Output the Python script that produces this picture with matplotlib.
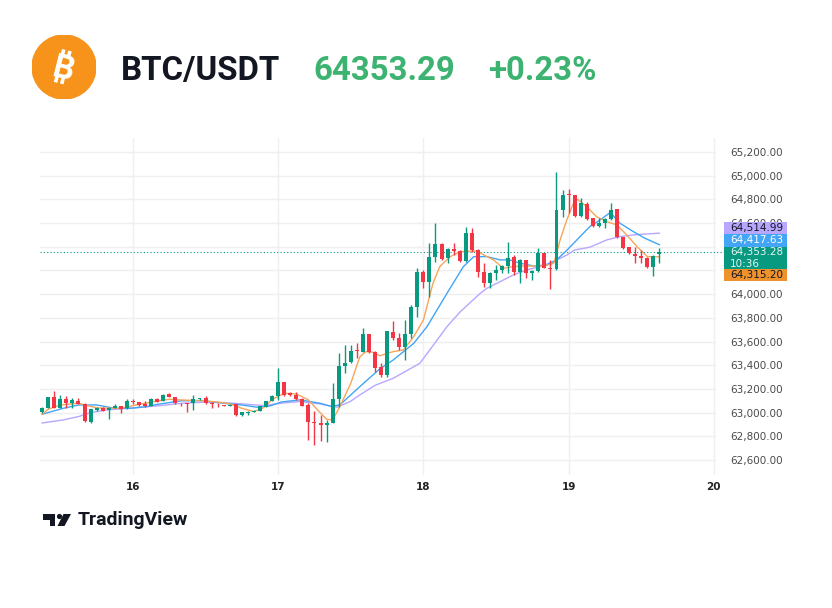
import numpy as np
import matplotlib.pyplot as plt
from matplotlib.patches import Rectangle, Circle, Polygon
from matplotlib.transforms import IdentityTransform

W, H = 832, 608

# ----------------------------
# data: hourly BTC/USDT candles, first candle = 15th 09:00
# ----------------------------
opens = [63003, 63043, 63130, 63043, 63116, 63085, 63102, 63074, 62919, 63023,
         63043, 63023, 63043, 63057, 63037, 63102, 63088, 63074, 63057, 63116,
         63102, 63158, 63130, 63082, 63080, 63079, 63116, 63121, 63085, 63073,
         63065, 63060, 63074, 62981, 62998, 63009, 63015, 63051, 63099, 63142,
         63257, 63164, 63150, 63114, 63066, 62920, 62911, 62900, 62917, 63114,
         63397, 63425, 63524, 63516, 63665, 63516, 63384, 63319, 63684, 63628,
         63550, 63665, 63895, 64190, 64106, 64317, 64421, 64303, 64378, 64367,
         64283, 64519, 64373, 64190, 64098, 64182, 64205, 64238, 64312, 64191,
         64289, 64177, 64196, 64345, 64218, 64210, 64710, 64842, 64837, 64660,
         64762, 64640, 64576, 64598, 64632, 64716, 64480, 64395, 64337, 64326,
         64309, 64227, 64340]
highs = [63050, 63135, 63183, 63150, 63144, 63121, 63121, 63078, 63035, 63048,
         63048, 63048, 63074, 63060, 63116, 63116, 63090, 63102, 63120, 63120,
         63155, 63169, 63133, 63085, 63082, 63150, 63125, 63144, 63088, 63079,
         63068, 63072, 63076, 63006, 63012, 63020, 63060, 63102, 63145, 63375,
         63262, 63178, 63178, 63120, 63080, 63010, 62981, 62939, 63248, 63501,
         63572, 63572, 63586, 63712, 63668, 63520, 63423, 63692, 63774, 63670,
         63783, 63909, 64218, 64204, 64429, 64598, 64429, 64387, 64429, 64373,
         64570, 64555, 64380, 64261, 64190, 64247, 64245, 64444, 64331, 64295,
         64289, 64200, 64387, 64345, 64289, 65034, 64879, 64885, 64840, 64809,
         64780, 64645, 64640, 64640, 64772, 64720, 64485, 64400, 64395, 64373,
         64315, 64330, 64387]
lows = [62995, 63040, 63038, 63040, 63043, 63037, 63070, 62925, 62915, 63018,
        63012, 62944, 63040, 62995, 63035, 63074, 63060, 63051, 63055, 63088,
        63098, 63132, 63075, 63057, 63009, 63023, 63110, 63075, 63037, 63046,
        63055, 63055, 62975, 62975, 62981, 63005, 63012, 63048, 63095, 63108,
        63142, 63142, 63110, 63055, 62771, 62729, 62757, 62751, 62911, 63052,
        63333, 63420, 63459, 63510, 63502, 63347, 63305, 63305, 63614, 63530,
        63446, 63628, 63811, 64050, 63979, 64275, 64289, 64260, 64331, 64275,
        64275, 64359, 64148, 64064, 64050, 64120, 64176, 64176, 64163, 64092,
        64134, 64120, 64190, 64218, 64042, 64205, 64654, 64682, 64655, 64654,
        64626, 64570, 64570, 64556, 64628, 64475, 64380, 64340, 64261, 64261,
        64220, 64154, 64261]
closes = [63043, 63130, 63043, 63116, 63079, 63107, 63074, 62930, 63029, 63043,
          63017, 63043, 63057, 63032, 63099, 63088, 63065, 63057, 63116, 63093,
          63150, 63136, 63079, 63078, 63076, 63116, 63121, 63079, 63071, 63070,
          63060, 63065, 62981, 63003, 63009, 63015, 63057, 63099, 63141, 63257,
          63150, 63150, 63114, 63060, 62925, 62911, 62900, 62911, 63114, 63397,
          63423, 63524, 63520, 63665, 63516, 63375, 63319, 63690, 63628, 63550,
          63665, 63895, 64190, 64106, 64317, 64421, 64294, 64378, 64367, 64283,
          64519, 64373, 64190, 64098, 64182, 64205, 64238, 64303, 64191, 64289,
          64177, 64196, 64345, 64224, 64210, 64710, 64837, 64834, 64660, 64767,
          64632, 64576, 64598, 64632, 64710, 64480, 64387, 64345, 64326, 64303,
          64227, 64323, 64353]

# moving averages (candle index, price)
ma_fast_x = [0, 1, 3, 6, 9, 13, 16, 19, 21, 23, 26, 29, 31, 33, 35, 36.5, 38, 40,
             42, 44, 45.5, 47, 48, 49.2, 51, 52.5, 53.5, 54.7, 55.8, 57, 58, 59.7,
             61.4, 63, 64.6, 65.7, 67.4, 69.1, 71.8, 73.5, 74.6, 76.2, 78, 80,
             82.3, 84, 84.6, 85.6, 86.7, 87.8, 88.5, 90, 91.6, 93.3, 95, 96.6,
             98.3, 100, 102]
ma_fast = [62985, 63029, 63065, 63079, 63040, 63037, 63070, 63098, 63113, 63107,
           63102, 63090, 63074, 63037, 63009, 63040, 63110, 63164, 63158, 63108,
           63024, 62945, 62939, 63052, 63248, 63472, 63515, 63510, 63480, 63500,
           63515, 63529, 63641, 63782, 64094, 64232, 64316, 64359, 64365, 64317,
           64289, 64219, 64233, 64238, 64238, 64250, 64265, 64458, 64626, 64767,
           64800, 64739, 64654, 64612, 64584, 64500, 64401, 64317, 64315]
ma_mid_x = [0, 3.5, 6, 9, 12, 14.5, 17.3, 19, 23, 26.6, 30, 33, 35.5, 37.7, 39.5,
            42.6, 45.9, 47.8, 49.2, 52.5, 55.8, 58, 61.4, 63.6, 66.9, 69.6, 71.3,
            73.5, 75.7, 77.3, 79, 81.2, 83.4, 85, 86.7, 88.9, 90.5, 92.2, 93.9,
            95.5, 97.7, 99.6, 102]
ma_mid = [62987, 63037, 63065, 63065, 63037, 63037, 63051, 63070, 63100, 63102,
          63079, 63065, 63046, 63057, 63090, 63108, 63080, 63052, 63066, 63220,
          63370, 63444, 63585, 63726, 64007, 64232, 64316, 64317, 64289, 64289,
          64261, 64238, 64247, 64289, 64370, 64486, 64570, 64626, 64690, 64598,
          64528, 64472, 64418]
ma_slow_x = [0, 3.5, 6, 8, 10.7, 14.5, 19.5, 23.3, 26.6, 29.9, 33.2, 36.5, 39.5,
             42.6, 45.9, 48.7, 50.9, 52.5, 55, 58, 62.4, 64.5, 66.9, 69.1, 72.4,
             73.5, 75.7, 77.9, 80.1, 82.3, 84.5, 86.7, 88, 90.5, 93.3, 95.5, 97.7,
             99.9, 102]
ma_slow = [62913, 62939, 62967, 63001, 63023, 63037, 63060, 63080, 63088, 63085,
           63074, 63060, 63080, 63094, 63074, 63046, 63094, 63150, 63230, 63290,
           63416, 63560, 63726, 63852, 64007, 64050, 64106, 64163, 64205, 64233,
           64275, 64330, 64373, 64396, 64458, 64486, 64500, 64508, 64515]

day_labels = ["16", "17", "18", "19", "20"]
day_index = [15, 39, 63, 87, 111]          # candle index of midnight
price_ticks = list(range(62600, 65201, 200))
hidden_ticks = [64400, 64200]              # covered by the price labels
last_price = 64353.28
countdown = "10:36"
ma_last = {"slow": 64514.99, "mid": 64417.63, "fast": 64315.20}

symbol = "BTC/USDT"
price_text = "64353.29"
change_text = "+0.23%"

# ----------------------------
# colours
# ----------------------------
UP, DOWN = "#089981", "#f23645"
C_FAST, C_MID, C_SLOW = "#f7a55a", "#42a5f5", "#b9a6ff"
HEAD_GREEN = "#3cb371"

fig = plt.figure(figsize=(W / 100, H / 100), dpi=100)
fig.patch.set_facecolor("white")

# plot area in pixels: x 40..716, y 138..475
ax = fig.add_axes([40 / W, 1 - 475 / H, 676 / W, 337 / H])
ax.set_xlim(-0.36, 111.36)
ax.set_ylim(62474, 65318)

for s in ax.spines.values():
    s.set_visible(False)

ax.set_yticks(price_ticks)
ax.set_yticklabels(["" if p in hidden_ticks else f"{p:,.2f}" for p in price_ticks])
ax.yaxis.tick_right()
ax.tick_params(axis="y", length=0, pad=10, labelsize=7.5, labelcolor="#4a4a4a")
ax.set_xticks(day_index)
ax.set_xticklabels(day_labels)
ax.tick_params(axis="x", length=0, pad=5, labelsize=7.5, labelcolor="#222222")
for t in ax.get_xticklabels():
    t.set_fontweight("bold")
ax.grid(True, color="#efefef", lw=1)
ax.set_axisbelow(True)

# candles
idx = np.arange(len(opens))
o, h, l, c = map(np.array, (opens, highs, lows, closes))
col = np.where(c >= o, UP, DOWN)
ax.vlines(idx, l, h, colors=col, lw=1, zorder=3)
body_lo = np.minimum(o, c)
body_h = np.maximum(np.abs(c - o), 5)
ax.bar(idx, body_h, bottom=body_lo, width=0.66, color=col, lw=0, zorder=4)

# moving averages
ax.plot(ma_slow_x, ma_slow, color=C_SLOW, lw=1, zorder=2.6)
ax.plot(ma_mid_x, ma_mid, color=C_MID, lw=1, zorder=2.7)
ax.plot(ma_fast_x, ma_fast, color=C_FAST, lw=1, zorder=2.8)

ax.axhline(last_price, xmax=1.012, color=UP, lw=0.8, ls=(0, (1, 2)),
           zorder=2.5, clip_on=False)

# price labels on the scale, stacked around the last price
fig.canvas.draw()
gy = ax.transData.transform((0, last_price))[1]
bx0, bw = 724, 63
one_h = 12.2
boxes = [
    (gy + 5.8 + one_h, one_h, C_SLOW, "#131722", f"{ma_last['slow']:,.2f}"),
    (gy + 5.8, one_h, C_MID, "white", f"{ma_last['mid']:,.2f}"),
    (gy - 16.8, 22.6, UP, "#e6f5f2", f"{last_price:,.2f}\n{countdown}"),
    (gy - 16.8 - one_h, one_h, "#f0922b", "#131722", f"{ma_last['fast']:,.2f}"),
]
for y0, bh, fc, tc, txt in boxes:
    fig.patches.append(Rectangle((bx0, y0), bw, bh, transform=IdentityTransform(),
                                 facecolor=fc, edgecolor="none", zorder=5))
    fig.text((bx0 + 6) / W, (y0 + bh / 2) / H, txt, color=tc, fontsize=7.5,
             ha="left", va="center", linespacing=1.25, zorder=6)

# ----------------------------
# header
# ----------------------------
logo = fig.add_axes([32 / W, 1 - 99 / H, 64 / W, 64 / H])
logo.set_xlim(0, 1)
logo.set_ylim(0, 1)
logo.axis("off")
logo.add_patch(Circle((0.5, 0.5), 0.5, color="#f7931a"))
th = np.deg2rad(-14)


def rot(u, v):
    return 0.5 + u * np.cos(th) - v * np.sin(th), 0.5 + u * np.sin(th) + v * np.cos(th)


cap = 0.37  # glyph height in logo units
logo.text(*rot(0.0, -cap / 2), "B", color="white", fontsize=24, fontweight="bold",
          family="Roboto", ha="center", va="baseline", rotation=-14,
          rotation_mode="anchor")
for u in (-0.07, 0.03):
    for v0, v1 in ((cap / 2 - 0.02, cap / 2 + 0.08), (-cap / 2 - 0.08, -cap / 2 + 0.02)):
        p0, p1 = rot(u, v0), rot(u, v1)
        logo.plot([p0[0], p1[0]], [p0[1], p1[1]], color="white", lw=2.6,
                  solid_capstyle="butt")

head_kw = dict(fontsize=23.8, fontweight="bold", family="Roboto",
               ha="left", va="baseline")
fig.text(121 / W, 1 - 80 / H, symbol, color="#131722", **head_kw)
fig.text(313 / W, 1 - 80 / H, price_text, color=HEAD_GREEN, **head_kw)
fig.text(488 / W, 1 - 80 / H, change_text, color=HEAD_GREEN, **head_kw)

# ----------------------------
# TradingView mark
# ----------------------------
def px(x, y):
    return (x, H - y)


tv = "#131722"
fig.patches.append(Polygon([px(43, 514), px(55, 514), px(55, 526), px(50, 526),
                            px(50, 519.5), px(43, 519.5)], closed=True,
                           transform=IdentityTransform(), fc=tv, ec="none"))
fig.patches.append(Circle(px(59.5, 516.5), 2.6, transform=IdentityTransform(),
                          fc=tv, ec="none"))
fig.patches.append(Polygon([px(63.5, 514), px(71, 514), px(64.5, 526), px(57.5, 526)],
                           closed=True, transform=IdentityTransform(), fc=tv, ec="none"))
fig.text(78 / W, 1 - 525 / H, "TradingView", fontsize=14, fontweight="bold",
         family="Roboto", color=tv, ha="left", va="baseline")

fig.savefig("out.png", dpi=100, facecolor="white")
